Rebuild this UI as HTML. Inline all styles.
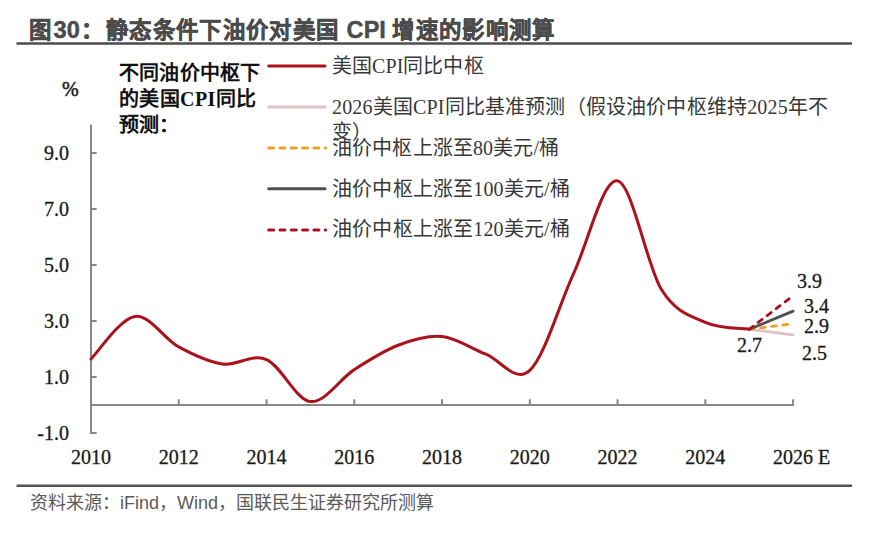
<!DOCTYPE html>
<html lang="zh-CN"><head><meta charset="utf-8">
<style>
html,body{margin:0;padding:0;background:#fff;}
body{width:880px;height:535px;overflow:hidden;position:relative;}
svg{position:absolute;left:0;top:0;}
.serif{font-family:"Liberation Serif",serif;}

.sans{font-family:"Liberation Sans",sans-serif;}
</style></head><body>
<svg width="880" height="535" viewBox="0 0 880 535">
<text class="sans" y="37.6" font-size="22.4" font-weight="bold" fill="#4b4b4b" stroke="#4b4b4b" stroke-width="0.45"><tspan x="29.0">图</tspan><tspan x="53.6" font-size="23.6">30</tspan><tspan x="80.6">：</tspan><tspan x="105.80 129.15 152.50 175.85 199.20 222.55 245.90 269.25 292.60 315.95">静态条件下油价对美国</tspan><tspan x="346.6" font-size="23.6">CPI</tspan><tspan x="392.30 415.65 439.00 462.35 485.70 509.05 532.40">增速的影响测算</tspan></text>
<rect x="16.5" y="42.25" width="835.5" height="2.5" fill="#4d4d4d"/>
<g stroke="#878787" stroke-width="2" fill="none">
<path d="M91.0,124.6 V432.90 H96.6"/>
<path d="M91.0,404.9 H793.08 V399.3"/>
<path d="M91.0,152.90 H96.6 M91.0,208.90 H96.6 M91.0,264.90 H96.6 M91.0,320.90 H96.6 M91.0,376.90 H96.6 "/>
<path d="M178.76,404.9 V399.3 M266.52,404.9 V399.3 M354.28,404.9 V399.3 M442.04,404.9 V399.3 M529.80,404.9 V399.3 M617.56,404.9 V399.3 M705.32,404.9 V399.3 "/>
</g>
<g class="serif" font-size="20" fill="#1a1a1a" stroke="#1a1a1a" stroke-width="0.3" text-anchor="end">
<text x="69" y="159.9">9.0</text>
<text x="69" y="215.9">7.0</text>
<text x="69" y="271.9">5.0</text>
<text x="69" y="327.9">3.0</text>
<text x="69" y="383.9">1.0</text>
<text x="69" y="439.9">-1.0</text>
</g>
<text class="serif" x="62" y="95.5" font-size="20" fill="#1a1a1a" stroke="#1a1a1a" stroke-width="0.5">%</text>
<g class="serif" font-size="20" fill="#1a1a1a" stroke="#1a1a1a" stroke-width="0.3" text-anchor="middle">
<text x="91.00" y="464">2010</text>
<text x="178.76" y="464">2012</text>
<text x="266.52" y="464">2014</text>
<text x="354.28" y="464">2016</text>
<text x="442.04" y="464">2018</text>
<text x="529.80" y="464">2020</text>
<text x="617.56" y="464">2022</text>
<text x="705.32" y="464">2024</text>
</g>
<text class="serif" x="773" y="464" font-size="20" fill="#1a1a1a" stroke="#1a1a1a" stroke-width="0.3">2026 E</text>
<path d="M91.00,358.98 C98.31,351.89 120.25,318.43 134.88,316.42 C149.51,314.41 164.13,339.01 178.76,346.94 C193.39,354.87 208.01,361.92 222.64,364.02 C237.27,366.12 251.89,353.29 266.52,359.54 C281.15,365.79 295.77,399.86 310.40,401.54 C325.03,403.22 339.65,379.00 354.28,369.62 C368.91,360.24 383.53,350.77 398.16,345.26 C412.79,339.75 427.41,335.09 442.04,336.58 C456.67,338.07 471.29,348.57 485.92,354.22 C500.55,359.87 515.17,383.95 529.80,370.46 C544.43,356.97 559.05,304.89 573.68,273.30 C588.31,241.71 602.93,178.19 617.56,180.90 C632.19,183.61 646.81,265.97 661.44,289.54 C676.07,313.11 690.69,315.67 705.32,322.30 C719.95,328.93 741.89,328.13 749.20,329.30" stroke="#ab121c" stroke-width="3" fill="none" stroke-linecap="round" stroke-linejoin="round"/>
<path d="M749.20,329.30 L793.08,334.90" stroke="#e2c0c3" stroke-width="2.8" fill="none" stroke-linecap="round"/>
<path d="M749.20,329.30 L793.08,323.70" stroke="#f0a028" stroke-width="2.8" fill="none" stroke-dasharray="5,6.3" stroke-linecap="round"/>
<path d="M749.20,329.30 L793.08,311.10" stroke="#505050" stroke-width="2.8" fill="none" stroke-linecap="round"/>
<path d="M749.20,329.30 L793.08,295.70" stroke="#ab121c" stroke-width="2.8" fill="none" stroke-dasharray="5,6.3" stroke-linecap="round"/>

<g class="serif" font-size="20" fill="#1a1a1a" stroke="#1a1a1a" stroke-width="0.3">
<text x="797" y="288">3.9</text>
<text x="804" y="313">3.4</text>
<text x="804" y="333">2.9</text>
<text x="802" y="360">2.5</text>
<text x="737" y="352">2.7</text>
</g>
<g class="serif" font-size="20" font-weight="bold" fill="#111">
<text x="119" y="80" textLength="141.2" lengthAdjust="spacing">不同油价中枢下</text>
<text x="119" y="106" textLength="137" lengthAdjust="spacing">的美国CPI同比</text>
<text x="119" y="132">预测：</text>
</g>
<g stroke-width="3" stroke-linecap="round" fill="none">
<path d="M268.7,65.9 H325" stroke="#ab121c"/>
<path d="M268.7,106.9 H325" stroke="#e2c0c3"/>
<path d="M268.7,147.9 H325.6" stroke="#f0a028" stroke-dasharray="5,6.3"/>
<path d="M268.7,188.7 H325" stroke="#505050"/>
<path d="M268.7,229.9 H325.6" stroke="#ab121c" stroke-dasharray="5,6.3"/>
</g>
<g class="serif" font-size="20" fill="#383838">
<text x="332" y="73" textLength="151.5" lengthAdjust="spacing">美国CPI同比中枢</text>
<text x="332" y="114" textLength="496" lengthAdjust="spacing">2026美国CPI同比基准预测（假设油价中枢维持2025年不</text>
<text x="332" y="139">变）</text>
<text x="332" y="155" textLength="227.1" lengthAdjust="spacing">油价中枢上涨至80美元/桶</text>
<text x="332" y="196" textLength="237.8" lengthAdjust="spacing">油价中枢上涨至100美元/桶</text>
<text x="332" y="236" textLength="237.8" lengthAdjust="spacing">油价中枢上涨至120美元/桶</text>
</g>
<rect x="16.5" y="484.5" width="835.5" height="2.5" fill="#555"/>
<text class="sans" x="30" y="509" font-size="18" fill="#5a5a5a" textLength="404" lengthAdjust="spacing">资料来源：iFind，Wind，国联民生证券研究所测算</text>
</svg>
</body></html>
